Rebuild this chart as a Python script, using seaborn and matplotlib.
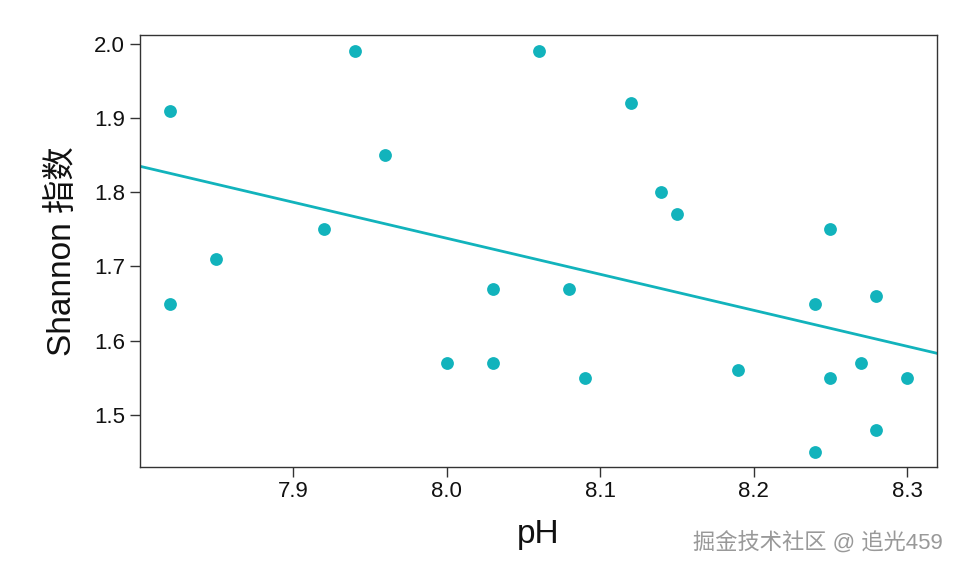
import matplotlib
matplotlib.use("Agg")
import matplotlib.pyplot as plt
import seaborn as sns
import pandas as pd

ph = [7.82, 7.82, 7.85, 7.92, 7.94, 7.96, 8.00, 8.03, 8.03, 8.06, 8.08, 8.09,
      8.12, 8.14, 8.15, 8.19, 8.24, 8.24, 8.25, 8.25, 8.27, 8.28, 8.28, 8.30]
shannon = [1.91, 1.65, 1.71, 1.75, 1.99, 1.85, 1.57, 1.67, 1.57, 1.99, 1.67, 1.55,
           1.92, 1.80, 1.77, 1.56, 1.65, 1.45, 1.75, 1.55, 1.57, 1.66, 1.48, 1.55]
xticks = [7.9, 8.0, 8.1, 8.2, 8.3]
yticks = [1.5, 1.6, 1.7, 1.8, 1.9, 2.0]

df = pd.DataFrame({"pH": ph, "Shannon": shannon})
sns.set_style("ticks")
plt.rcParams['font.family'] = ['Liberation Sans', 'Noto Sans CJK SC', 'DejaVu Sans']

color = "#12B3BC"
fig = plt.figure(figsize=(9.57, 5.72), dpi=100)
ax = fig.add_axes([0.146, 0.184, 0.833, 0.755])
sns.regplot(data=df, x="pH", y="Shannon", ax=ax, ci=None, truncate=False,
            color=color, scatter_kws=dict(s=85, alpha=1, linewidths=0),
            line_kws=dict(lw=2))
ax.set_xlim(7.800, 8.3195)
ax.set_ylim(1.43, 2.012)
ax.set_xticks(xticks)
ax.set_xticklabels([f"{v:.1f}" for v in xticks])
ax.set_yticks(yticks)
ax.set_yticklabels([f"{v:.1f}" for v in yticks])
ax.tick_params(labelsize=16, length=7, width=1, color="#333333", labelcolor="#111111")
for s in ax.spines.values():
    s.set_visible(True)
    s.set_color("#333333")
    s.set_linewidth(1)
ax.set_xlabel("pH", fontsize=24, labelpad=12, color="#111111")
ax.set_ylabel("Shannon 指数", fontsize=24, labelpad=12, color="#111111")
fig.text(0.985, 0.03, "掘金技术社区 @ 追光459", ha="right", va="bottom",
         fontsize=16, color="#999999")
fig.savefig("out.png", dpi=100)
